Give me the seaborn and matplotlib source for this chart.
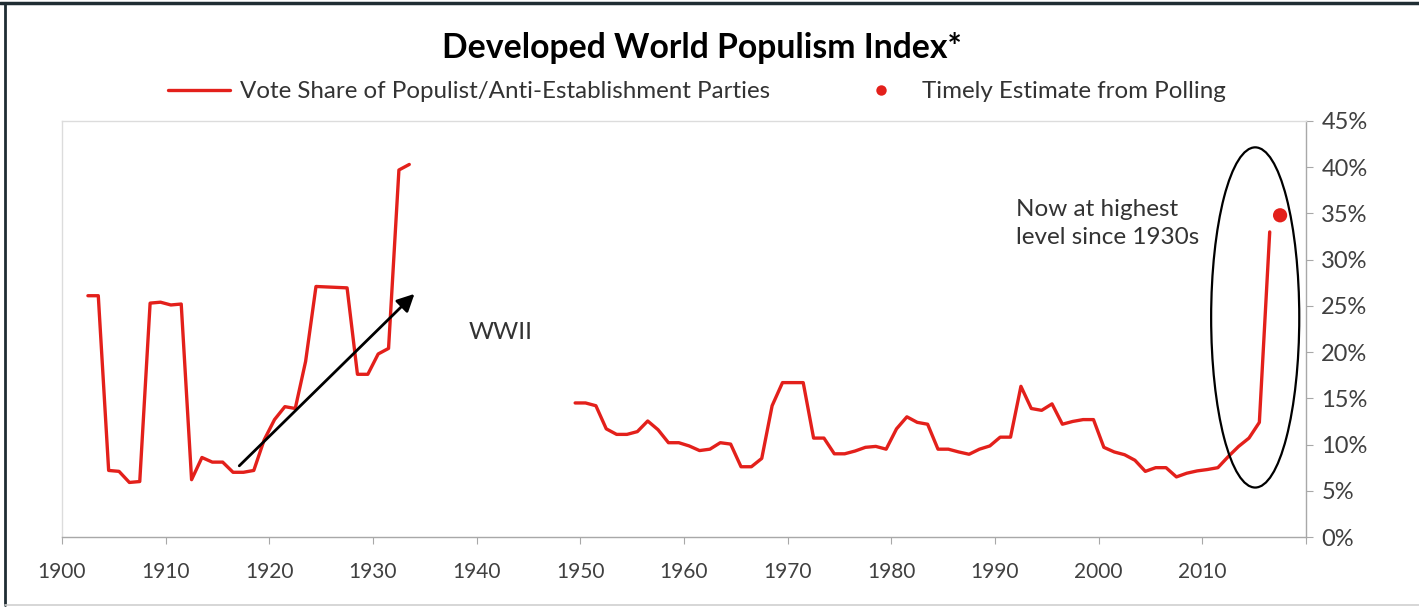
import numpy as np
import pandas as pd
import matplotlib
matplotlib.use("Agg")
import matplotlib.pyplot as plt
from matplotlib.patches import Ellipse
from matplotlib.lines import Line2D
import seaborn as sns

# Annual vote share (%) of populist / anti-establishment parties
years_early = list(range(1902, 1934))
share_early = [26.1, 26.1, 7.2, 7.1, 5.9, 6.0, 25.3, 25.4, 25.1, 25.2,
               6.2, 8.6, 8.1, 8.1, 7.0, 7.0, 7.2, 10.5, 12.7, 14.1,
               13.9, 19.0, 27.1, 27.05, 27.0, 26.95, 17.6, 17.6, 19.8, 20.4,
               39.7, 40.3]

years_late = list(range(1949, 2017))
share_late = [14.5, 14.5, 14.2, 11.7, 11.1, 11.1, 11.4, 12.55, 11.6, 10.2,
              10.2, 9.85, 9.35, 9.5, 10.2, 10.05, 7.6, 7.6, 8.5, 14.2,
              16.7, 16.7, 16.7, 10.7, 10.7, 9.0, 9.0, 9.3, 9.7, 9.8,
              9.5, 11.7, 13.0, 12.4, 12.2, 9.5, 9.5, 9.2, 8.95, 9.5,
              9.85, 10.8, 10.8, 16.3, 13.9, 13.7, 14.4, 12.2, 12.5, 12.7,
              12.7, 9.7, 9.2, 8.9, 8.3, 7.1, 7.5, 7.5, 6.5, 6.9,
              7.15, 7.3, 7.5, 8.7, 9.8, 10.7, 12.4, 33.0]

# Latest reading from opinion polls
poll_year = [2017]
poll_share = [34.8]

xtick_years = list(range(1900, 2021, 10))
xtick_labels = [str(y) for y in range(1900, 2011, 10)] + [""]
ytick_values = list(range(0, 46, 5))
ytick_labels = [f"{v}%" for v in ytick_values]

RED = "#e3201b"
TEXT = "#404040"

sns.set_theme(style="white")
plt.rcParams["font.family"] = ["Lato", "DejaVu Sans"]

df = pd.DataFrame({
    "year": years_early + years_late,
    "share": share_early + share_late,
    "segment": ["pre-war"] * len(years_early) + ["post-war"] * len(years_late),
})
df["x"] = df["year"] + 0.5          # annual values sit at mid-year
poll = pd.DataFrame({"x": np.array(poll_year) + 0.5, "share": poll_share})

fig = plt.figure(figsize=(14.19, 6.08), dpi=100)
W, H = 1419, 608
ax = fig.add_axes([62 / W, 1 - 537 / H, (1306 - 62) / W, (537 - 121) / H])

sns.lineplot(data=df, x="x", y="share", units="segment", estimator=None,
             color=RED, lw=2.4, ax=ax, legend=False)
sns.scatterplot(data=poll, x="x", y="share", color=RED, s=105,
                edgecolor="none", ax=ax, legend=False, zorder=5)

ax.set_xlim(1900, 2020)
ax.set_ylim(0, 45)
ax.set_xticks(xtick_years)
ax.set_xticklabels(xtick_labels)
ax.set_yticks(ytick_values)
ax.set_yticklabels(ytick_labels)
ax.set_xlabel("")
ax.set_ylabel("")
ax.yaxis.tick_right()

for side in ("top", "left"):
    ax.spines[side].set_color("#dcdcdc")
    ax.spines[side].set_linewidth(1.0)
for side in ("bottom", "right"):
    ax.spines[side].set_color("#a8a8a8")
    ax.spines[side].set_linewidth(1.0)

ax.tick_params(axis="x", bottom=True, direction="out", length=5, width=0.8,
               color="#a8a8a8", labelsize=15, labelcolor=TEXT, pad=13)
ax.tick_params(axis="y", right=True, left=False, direction="out", length=5,
               width=0.8, color="#a8a8a8", labelsize=17, labelcolor=TEXT, pad=6)

# Annotations
ax.annotate("", xy=(1934.0, 26.3), xytext=(1917.1, 7.7),
            arrowprops=dict(arrowstyle="-|>", color="black", lw=2.0,
                            mutation_scale=26, shrinkA=0, shrinkB=0))
ax.text(1942.3, 22.1, "WWII", ha="center", va="center", fontsize=17.5,
        color="#333333")
ax.text(1992.0, 33.9, "Now at highest\nlevel since 1930s", ha="left",
        va="center", fontsize=17.5, color="#333333", linespacing=1.4)
ax.add_patch(Ellipse((2015.1, 23.75), width=8.5, height=36.8, fill=False,
                     ec="black", lw=1.6, clip_on=False, zorder=4))

# Title and legend
fig.text(702 / W, 1 - 48 / H, "Developed World Populism Index*", ha="center",
         va="center", fontsize=24.3, fontweight="bold", color="black")
handles = [Line2D([], [], color=RED, lw=2.4),
           Line2D([], [], color=RED, marker="o", ls="", markersize=7.5,
                  markeredgecolor="none")]
labels = ["Vote Share of Populist/Anti-Establishment Parties",
          "Timely Estimate from Polling"]
fig.legend(handles, labels, loc="center", bbox_to_anchor=(697 / W, 1 - 92 / H),
           ncol=2, frameon=False, fontsize=17.4, handlelength=2.55,
           handletextpad=0.42, columnspacing=3.3, labelcolor="#333333")

# Outer frame
fig.add_artist(Line2D([0, 1], [1 - 3 / H, 1 - 3 / H], transform=fig.transFigure,
                      color="#1f2d33", lw=2.5))
fig.add_artist(Line2D([5 / W, 5 / W], [1 - 3 / H, 1 - 605 / H],
                      transform=fig.transFigure, color="#1f2d33", lw=2.0))
fig.add_artist(Line2D([5 / W, 1], [1 - 605 / H, 1 - 605 / H],
                      transform=fig.transFigure, color="#cfcfcf", lw=1.2))

fig.savefig("out.png", dpi=100, facecolor="white")
